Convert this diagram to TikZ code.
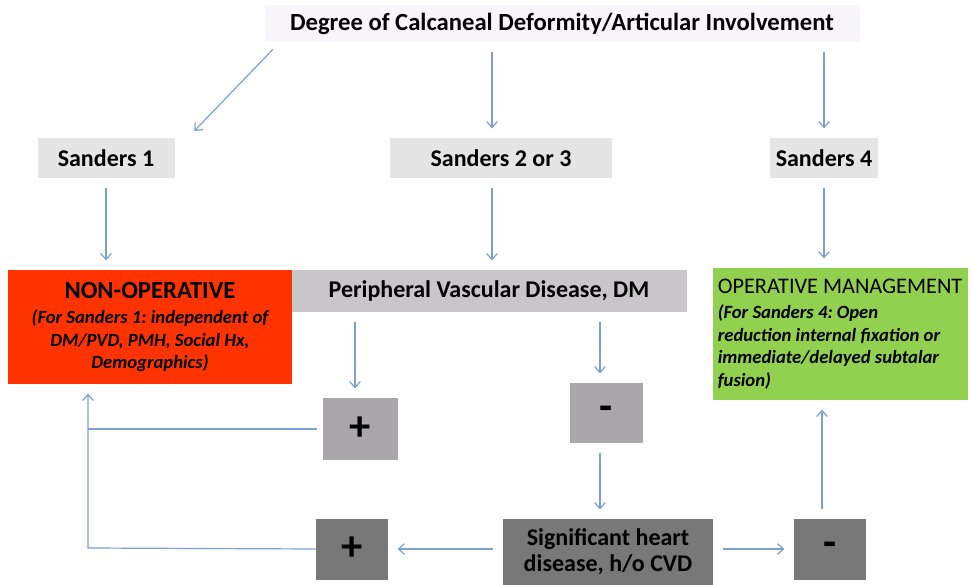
\documentclass[tikz,border=0pt]{standalone}
\usepackage{fontspec}
\setmainfont{Carlito}
\usetikzlibrary{arrows.meta,calc}

\definecolor{arrblue}{RGB}{122,160,214}
\definecolor{titlefill}{RGB}{248,246,250}
\definecolor{lightgrey}{RGB}{230,229,230}
\definecolor{midgrey}{RGB}{200,198,200}
\definecolor{signgrey}{RGB}{170,167,170}
\definecolor{darkgrey}{RGB}{120,120,120}
\definecolor{nonopred}{RGB}{255,51,0}
\definecolor{opgreen}{RGB}{146,208,80}
\newcommand{\notefont}{\fontsize{14}{17}\selectfont\bfseries\itshape}
\frenchspacing

\begin{document}
\begin{tikzpicture}[x=0.75pt,y=0.75pt,yscale=-1,xscale=1,
		box/.style={inner sep=0pt,align=center,font=\fontsize{18}{21}\selectfont\bfseries},
		signbox/.style={box,font=\fontsize{32}{34}\selectfont\bfseries},
		arr/.style={draw=arrblue,line width=0.9pt,-{Straight Barb[length=4.5pt,width=8pt]},shorten <=7pt,shorten >=7pt},
		link/.style={draw=arrblue,line width=0.9pt}]
		\useasboundingbox (0,0) rectangle (972,585);
		\node [box,fill=titlefill,minimum width=446.25pt,minimum height=27.75pt,font=\fontsize{18.5}{21}\selectfont\bfseries] (title) at (562,24) {Degree of Calcaneal Deformity/Articular Involvement};
		\node [box,fill=lightgrey,minimum width=102.75pt,minimum height=30pt] (s1) at (106,158) {Sanders 1};
		\node [box,fill=lightgrey,minimum width=166.5pt,minimum height=30pt] (s23) at (501,158) {Sanders 2 or 3};
		\node [box,fill=lightgrey,minimum width=81pt,minimum height=30pt] (s4) at (824,158) {Sanders 4};
		\node [box,fill=nonopred,minimum width=213pt,minimum height=85.5pt,font=\notefont] (nonop) at (150,327) {{\fontsize{18.5}{21}\selectfont\upshape NON-OPERATIVE}\\[2pt]
			(For Sanders 1: independent of\\DM/PVD, PMH, Social Hx,\\Demographics)};
		\node [box,fill=midgrey,minimum width=296.25pt,minimum height=31.5pt] (pvd) at (489,291) {Peripheral Vascular Disease, DM};
		\node [box,fill=opgreen,minimum width=191.25pt,minimum height=99pt,align=left,font=\notefont] (oper) at (840,334) {{\fontsize{16.7}{20}\selectfont\mdseries\upshape OPERATIVE MANAGEMENT}\\[2pt]
			(For Sanders 4: Open\\reduction internal fixation or\\immediate/delayed subtalar\\fusion)};
		\node [signbox,fill=signgrey,minimum width=56.25pt,minimum height=46.5pt] (pos1) at (360,429) {+};
		\node [signbox,fill=signgrey,minimum width=54.75pt,minimum height=45pt] (neg1) at (606,413) {-};
		\node [box,fill=darkgrey,minimum width=157.5pt,minimum height=49.5pt,font=\fontsize{18}{19.5}\selectfont\bfseries] (heart) at (608,552) {Significant heart\\disease, h/o CVD};
		\node [signbox,fill=darkgrey,minimum width=54pt,minimum height=45.75pt] (pos2) at (352,549) {+};
		\node [signbox,fill=darkgrey,minimum width=54pt,minimum height=45.75pt] (neg2) at (830,549) {-};
		\coordinate (c1) at (88,548);
		\draw [arr] ($(title.south west)+(15,0)$) -- ($(s1.north east)+(13,0)$);
		\draw [arr] ($(title.south -| s23.north)+(-9,0)$) -- ($(s23.north)+(-9,0)$);
		\draw [arr] (title.south -| s4.north) -- (s4.north);
		\draw [arr] (s1.south) -- (s1.south |- nonop.north);
		\draw [arr] ($(s23.south)+(-9,0)$) -- ($(s23.south |- pvd.north)+(-9,0)$);
		\draw [arr] (s4.south) -- (s4.south |- oper.north);
		\draw [arr] ($(pos1.north |- pvd.south)+(-5,0)$) -- ($(pos1.north)+(-5,0)$);
		\draw [arr] ($(neg1.north |- pvd.south)+(-6,0)$) -- ($(neg1.north)+(-6,0)$);
		\draw [arr] ($(neg1.south)+(-6,0)$) -- ($(neg1.south |- heart.north)+(-6,0)$);
		\draw [arr] (heart.west |- pos2.east) -- (pos2.east);
		\draw [arr] (heart.east |- neg2.west) -- (neg2.west);
		\draw [arr] ($(neg2.north)+(-8,0)$) -- ($(neg2.north |- oper.south)+(-8,0)$);
		\draw [link] ($(pos1.west)+(-5,0)$) -- (pos1.west -| c1);
		\draw [arr,shorten <=0pt] (pos2.west) -- (c1) -- (c1 |- nonop.south);
\end{tikzpicture}
\end{document}
